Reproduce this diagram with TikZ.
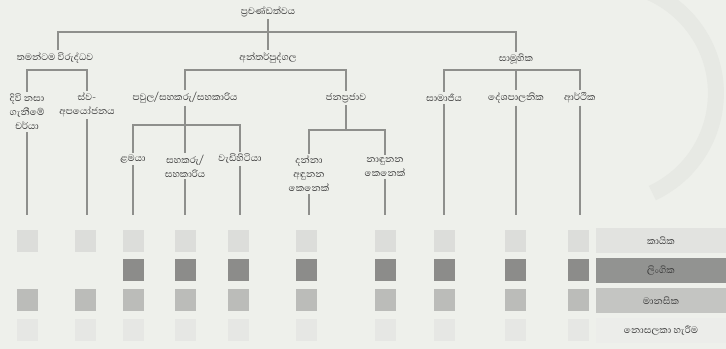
\documentclass[tikz,border=0pt]{standalone}
\usepackage{fontspec}
\newfontfamily\sinhalafont[Script=Sinhala]{Abhaya Libre}
\definecolor{bg}{HTML}{EEF0EB}
\definecolor{ln}{HTML}{8E8F8C}
\definecolor{txt}{HTML}{3A3A3A}
\definecolor{arcc}{HTML}{E7E9E4}
\definecolor{ra}{HTML}{DCDDDA}
\definecolor{rb}{HTML}{8C8C8A}
\definecolor{rc}{HTML}{BBBCB9}
\definecolor{rd}{HTML}{E6E7E4}
\definecolor{la}{HTML}{E2E3E0}
\definecolor{lb}{HTML}{929391}
\definecolor{lc}{HTML}{C4C5C2}
\definecolor{ld}{HTML}{ECEDEA}
\tikzset{
  lbl/.style={font=\sinhalafont\fontsize{9}{10.5}\selectfont, text=txt, inner sep=1.5pt, align=center},
  conn/.style={draw=ln, line width=1.4pt},
  sq/.style={draw=none, minimum width=15.75pt, minimum height=16.5pt, inner sep=0pt},
  legbox/.style={draw=none, minimum width=97.5pt, minimum height=18.75pt, inner sep=0pt,
     font=\sinhalafont\fontsize{9}{10.5}\selectfont, text=txt}
}
\begin{document}
\begin{tikzpicture}[x=0.75pt,y=-0.75pt]
\useasboundingbox (0,0) rectangle (726,349);
\fill[bg] (0,0) rectangle (726,349);
\draw[arcc, line width=12pt] (625,-15) arc[start angle=-80, end angle=65, radius=110];

% level 0/1
\node[lbl] (root) at (268,12) {ප්‍රචණ්ඩත්වය};
\node[lbl] (self) at (55,58) {තමන්ටම විරුද්ධව};
\node[lbl] (inter) at (268,58) {අන්තර්පුද්ගල};
\node[lbl] (coll) at (516,59) {සාමූහික};
\coordinate (bl) at (58,32);
\coordinate (br) at (516,32);
\draw[conn] (root.south) -- (inter.north);
\draw[conn] (self.north -| bl) -- (bl) -- (br) -- (coll.north);

% level 2
\node[lbl] (suic) at (27,112) {දිවි නසා\\ගැනීමේ\\චර්යා};
\node[lbl] (selfab) at (87,105) {ස්ව-\\අපයෝජනය};
\node[lbl] (fam) at (185,98) {පවුල/සහකරු/සහකාරිය};
\node[lbl] (comm) at (346,98) {ජනප්‍රජාව};
\node[lbl] (soc) at (444,98) {සාමාජීය};
\node[lbl] (pol) at (516,98) {දේශපාලනික};
\node[lbl] (econ) at (580,98) {ආර්ථික};
\coordinate (sb) at (56,70);
\coordinate (ib) at (268,70);
\coordinate (cb) at (516,70);
\draw[conn] (suic.north) |- (sb) -| (selfab.north);
\draw[conn] (fam.north) |- (ib) -| (comm.north);
\draw[conn] (soc.north) |- (cb) -| (econ.north);
\draw[conn] (cb) -- (pol.north);

% level 3
\node[lbl] (child) at (133,159) {ළමයා};
\node[lbl] (partner) at (185,166) {සහකරු/\\සහකාරිය};
\node[lbl] (elder) at (240,159) {වැඩිහිටියා};
\node[lbl] (acq) at (309,174) {දන්නා\\අඳුනන\\කෙනෙක්};
\node[lbl] (stranger) at (385,167) {නාඳුනන\\කෙනෙක්};
\coordinate (fb) at (185,125);
\coordinate (cmb) at (346,130);
\draw[conn] (fam.south) -- (fb);
\draw[conn] (child.north) |- (fb) -| (elder.north);
\draw[conn] (fb) -- (partner.north);
\draw[conn] (comm.south) -- (cmb);
\draw[conn] (acq.north) |- (cmb) -| (stranger.north);

% drops to squares
\coordinate (k1) at (27,215);
\coordinate (k2) at (87,215);
\coordinate (k3) at (133,215);
\coordinate (k4) at (185,215);
\coordinate (k5) at (240,215);
\coordinate (k6) at (309,215);
\coordinate (k7) at (385,215);
\coordinate (k8) at (444,215);
\coordinate (k9) at (516,215);
\coordinate (k10) at (580,215);
\draw[conn] (suic.south) -- (k1);
\draw[conn] (selfab.south) -- (k2);
\draw[conn] (child.south) -- (k3);
\draw[conn] (partner.south) -- (k4);
\draw[conn] (elder.south) -- (k5);
\draw[conn] (acq.south) -- (k6);
\draw[conn] (stranger.south) -- (k7);
\draw[conn] (soc.south) -- (k8);
\draw[conn] (pol.south) -- (k9);
\draw[conn] (econ.south) -- (k10);

% squares
\foreach \n/\x in {1/27,2/85} {
  \node[sq, fill=ra] (a\n) at (\x,241) {};
  \node[sq, fill=rc] (c\n) at (\x,300) {};
  \node[sq, fill=rd] (d\n) at (\x,330) {};
}
\foreach \n/\x in {3/133,4/185,5/238,6/306,7/385,8/444,9/515,10/578} {
  \node[sq, fill=ra] (a\n) at (\x,241) {};
  \node[sq, fill=rb] (b\n) at (\x,270) {};
  \node[sq, fill=rc] (c\n) at (\x,300) {};
  \node[sq, fill=rd] (d\n) at (\x,330) {};
}

% legend
\node[legbox, fill=la] (L1) at (661,241) {කායික};
\node[legbox, fill=lb, text=black!78] (L2) at (661,270.5) {ලිංගික};
\node[legbox, fill=lc] (L3) at (661,300.5) {මානසික};
\node[legbox, fill=ld] (L4) at (661,330.5) {නොසලකා හැරීම};
\end{tikzpicture}
\end{document}
